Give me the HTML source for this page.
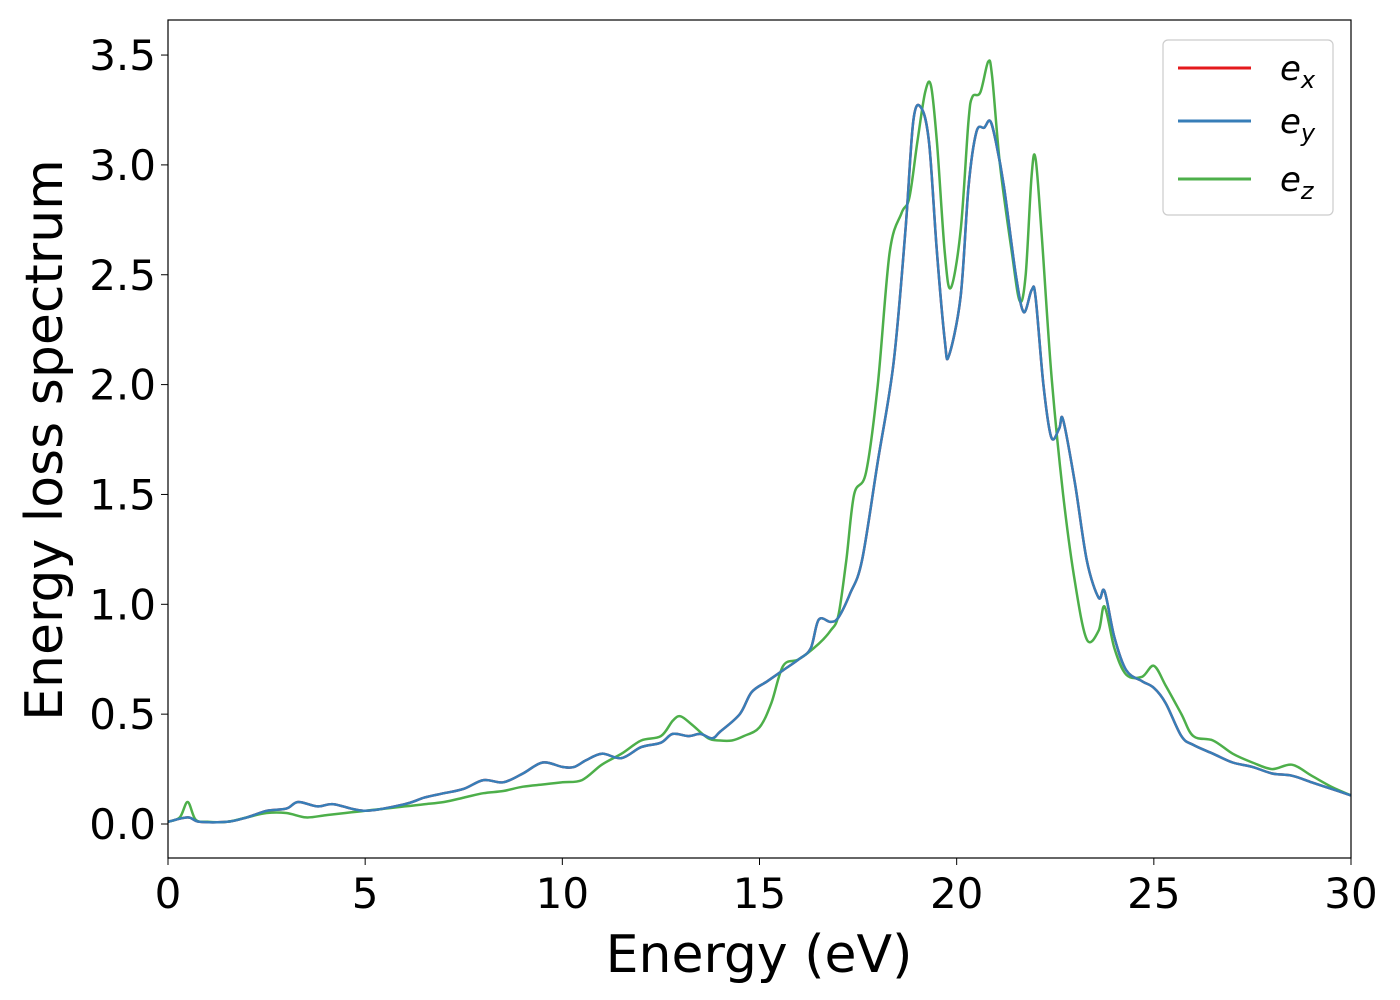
<!DOCTYPE html>
<html><head><meta charset="utf-8"><style>
body{margin:0;background:#fff;}
svg{display:block;font-family:"DejaVu Sans","Liberation Sans",sans-serif;}
</style></head><body>
<svg id="chart" width="1400" height="1000" viewBox="0 0 1400 1000" xmlns="http://www.w3.org/2000/svg">
<rect x="0" y="0" width="1400" height="1000" fill="#fff"/>
<g id="series"></g>
<rect x="168" y="20" width="1183" height="838" fill="none" stroke="#000" stroke-width="1.2"/>
<g id="xticks"></g><g id="yticks"></g>
<text x="759" y="972" font-size="52" text-anchor="middle">Energy (eV)</text>
<text transform="translate(62,440) rotate(-90)" font-size="52" text-anchor="middle">Energy loss spectrum</text>
<g>
<rect x="1163" y="40" width="170" height="175" rx="5" fill="#fff" fill-opacity="0.8" stroke="#ccc" stroke-width="1.2"/>
<line x1="1178" y1="68" x2="1251" y2="68" stroke="#e41a1c" stroke-width="3"/>
<text x="1280" y="80" font-size="34" font-style="italic">e<tspan font-size="24" dy="8">x</tspan></text>
<line x1="1178" y1="121" x2="1251" y2="121" stroke="#377eb8" stroke-width="3"/>
<text x="1280" y="133" font-size="34" font-style="italic">e<tspan font-size="24" dy="8">y</tspan></text>
<line x1="1178" y1="179" x2="1251" y2="179" stroke="#4daf4a" stroke-width="3"/>
<text x="1280" y="191" font-size="34" font-style="italic">e<tspan font-size="24" dy="8">z</tspan></text>
</g>
</svg>
<script>
const xTicks=[0,5,10,15,20,25,30];
const yTicks=[0.0,0.5,1.0,1.5,2.0,2.5,3.0,3.5];
const exE=[0,0.5,0.8,1.5,2,2.5,3,3.3,3.8,4.2,5,6,6.5,7,7.5,8,8.5,9,9.5,10,10.3,10.6,11,11.5,12,12.5,12.8,13.2,13.5,13.8,14,14.5,14.8,15.2,15.6,16,16.3,16.5,16.8,17,17.3,17.6,18,18.4,18.7,18.9,19.1,19.3,19.5,19.7,19.8,20.1,20.3,20.5,20.7,20.85,21,21.2,21.5,21.7,21.9,22,22.2,22.4,22.6,22.7,23,23.3,23.6,23.75,24,24.3,24.7,25,25.3,25.7,26,26.5,27,27.5,28,28.5,29,29.5,30];
const exV=[0.01,0.03,0.01,0.01,0.03,0.06,0.07,0.1,0.08,0.09,0.06,0.09,0.12,0.14,0.16,0.2,0.19,0.23,0.28,0.26,0.26,0.29,0.32,0.3,0.35,0.37,0.41,0.4,0.41,0.39,0.42,0.5,0.6,0.65,0.7,0.75,0.8,0.93,0.92,0.94,1.05,1.2,1.65,2.1,2.7,3.2,3.26,3.1,2.6,2.2,2.13,2.4,2.9,3.15,3.17,3.2,3.1,2.9,2.5,2.33,2.43,2.4,2.0,1.76,1.8,1.84,1.55,1.2,1.03,1.06,0.85,0.7,0.65,0.62,0.55,0.4,0.36,0.32,0.28,0.26,0.23,0.22,0.19,0.16,0.13];
const eyV=exV.slice();
const ezE=[0,0.3,0.5,0.7,1,1.5,2,2.5,3,3.5,4,4.5,5,5.5,6,6.5,7,7.5,8,8.5,9,9.5,10,10.5,11,11.5,12,12.5,12.8,13,13.3,13.7,14,14.3,14.6,15,15.3,15.6,16,16.5,16.8,17,17.2,17.4,17.7,18,18.3,18.6,18.8,19,19.2,19.35,19.5,19.7,19.85,20.1,20.3,20.4,20.6,20.8,20.9,21.1,21.4,21.6,21.75,21.9,22,22.15,22.4,22.7,23,23.3,23.6,23.75,24,24.3,24.7,25,25.3,25.7,26,26.5,27,27.5,28,28.5,29,29.5,30];
const ezV=[0.01,0.03,0.1,0.02,0.01,0.01,0.03,0.05,0.05,0.03,0.04,0.05,0.06,0.07,0.08,0.09,0.1,0.12,0.14,0.15,0.17,0.18,0.19,0.2,0.27,0.32,0.38,0.4,0.47,0.49,0.45,0.39,0.38,0.38,0.4,0.44,0.55,0.72,0.75,0.82,0.88,0.95,1.2,1.5,1.6,2.0,2.6,2.78,2.85,3.1,3.33,3.36,3.1,2.6,2.44,2.7,3.2,3.31,3.33,3.47,3.4,3.0,2.6,2.38,2.5,2.95,3.03,2.7,2.05,1.5,1.1,0.84,0.88,0.99,0.8,0.68,0.67,0.72,0.63,0.5,0.4,0.38,0.32,0.28,0.25,0.27,0.22,0.17,0.13];
const X0=168,X1=1351,Y0=824,YS=219.7;
function sx(v){return X0+v/30*(X1-X0);}
function sy(v){return Y0-v*YS;}
const NS="http://www.w3.org/2000/svg";
function pathD(xs,ys){
  const p=xs.map((x,i)=>[sx(x),sy(ys[i])]);
  let d="M"+p[0][0].toFixed(1)+","+p[0][1].toFixed(1);
  for(let i=0;i<p.length-1;i++){
    const a=p[Math.max(0,i-1)],b=p[i],c=p[i+1],e=p[Math.min(p.length-1,i+2)];
    const c1=[b[0]+(c[0]-a[0])/6,b[1]+(c[1]-a[1])/6],c2=[c[0]-(e[0]-b[0])/6,c[1]-(e[1]-b[1])/6];
    d+=" C"+c1[0].toFixed(1)+","+c1[1].toFixed(1)+" "+c2[0].toFixed(1)+","+c2[1].toFixed(1)+" "+c[0].toFixed(1)+","+c[1].toFixed(1);
  }
  return d;
}
const g=document.getElementById("series");
function addLine(xs,ys,color,name){
  const el=document.createElementNS(NS,"path");
  el.setAttribute("d",pathD(xs,ys));
  el.setAttribute("fill","none");el.setAttribute("stroke",color);el.setAttribute("stroke-width","2.5");
  
  
  g.appendChild(el);
}
addLine(exE,exV,"#e41a1c","series-ex");
addLine(ezE,ezV,"#4daf4a","series-ez");
addLine(exE,eyV,"#377eb8","series-ey");
const xt=document.getElementById("xticks");
xTicks.forEach(v=>{
  const l=document.createElementNS(NS,"line");
  l.setAttribute("x1",sx(v));l.setAttribute("x2",sx(v));l.setAttribute("y1",858);l.setAttribute("y2",865);l.setAttribute("stroke","#000");
  
  
  xt.appendChild(l);
  const t=document.createElementNS(NS,"text");
  t.setAttribute("x",sx(v));t.setAttribute("y",908);t.setAttribute("font-size","42");t.setAttribute("text-anchor","middle");
  t.textContent=v;
  
  
  xt.appendChild(t);
});
const yt=document.getElementById("yticks");
yTicks.forEach(v=>{
  const l=document.createElementNS(NS,"line");
  l.setAttribute("x1",161);l.setAttribute("x2",168);l.setAttribute("y1",sy(v));l.setAttribute("y2",sy(v));l.setAttribute("stroke","#000");
  
  
  yt.appendChild(l);
  const t=document.createElementNS(NS,"text");
  t.setAttribute("x",156);t.setAttribute("y",sy(v)+15);t.setAttribute("font-size","42");t.setAttribute("text-anchor","end");
  t.textContent=v.toFixed(1);
  
  
  yt.appendChild(t);
});
</script>
</body></html>
